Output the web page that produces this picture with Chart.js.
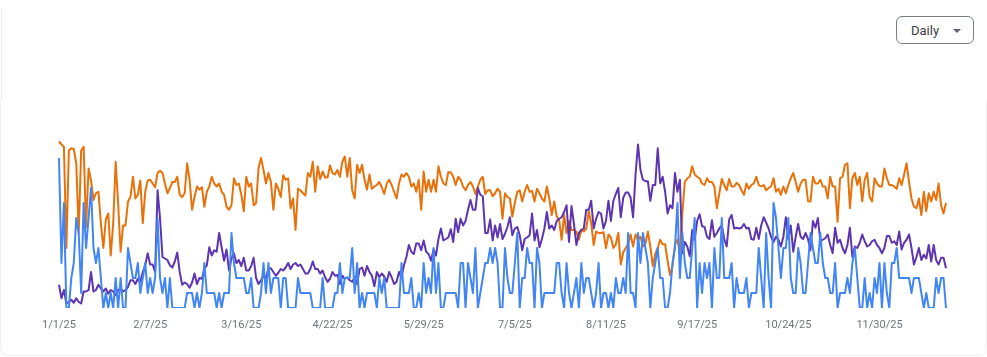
<!DOCTYPE html>
<html>
<head>
<meta charset="utf-8">
<script src="https://cdn.jsdelivr.net/npm/chart.js@4.4.0/dist/chart.umd.min.js"></script>
<style>
  html, body { margin: 0; padding: 0; background: #ffffff; }
  body { width: 987px; height: 357px; position: relative; overflow: hidden; font-family: Roboto, "Noto Sans", Arial, sans-serif; }
  #edgeTop { position: absolute; left: 1px; top: 8px; width: 1px; height: 92px; background: #ecebf4; }
  #card { position: absolute; left: 0; top: 100px; width: 985px; height: 255px; border: 1px solid #f1f1f5; border-top: none; border-radius: 0 0 8px 8px; }
  #chart { position: absolute; left: 0; top: 0; }
  #daily { position: absolute; left: 896px; top: 16px; width: 78px; height: 28px; box-sizing: border-box; border: 1px solid #7a7f85; border-radius: 6px; background: #fff; }
  #daily span { position: absolute; left: 14px; top: 6px; font-size: 13px; line-height: 15px; color: #3c4043; font-family: Roboto, sans-serif; }
  #daily i { position: absolute; left: 56px; top: 12px; width: 0; height: 0; border-left: 4.5px solid transparent; border-right: 4.5px solid transparent; border-top: 4.5px solid #5f6368; }
</style>
</head>
<body>
<div id="edgeTop"></div>
<div id="card"></div>
<canvas id="chart" width="987" height="357"></canvas>
<div id="daily"><span>Daily</span><i></i></div>
<script>
// Category axis: daily dates from 1/1/25 to 12/27/25
const startYear = 2025;
const dayCount = 361;
const categories = [];
for (let i = 0; i < dayCount; i++) {
  const d = new Date(startYear, 0, 1 + i);
  categories.push((d.getMonth() + 1) + '/' + d.getDate() + '/' + String(d.getFullYear()).slice(2));
}

// Tick labels shown on the x axis
const tickLabels = ['1/1/25', '2/7/25', '3/16/25', '4/22/25', '5/29/25', '7/5/25', '8/11/25', '9/17/25', '10/24/25', '11/30/25'];

// Blue series (integer daily counts)
const blueSeries = [
  10,3,7,0,0, 2,3,6,5,1, 7,4,6,8,4, 3,4,2,0,1, 0,1,0,2,0, 2,0,0,4,3, 2,2,3,1,2, 3,1,2,1,2, 6,2,1,
  2,0,2,0,0, 0,0,0,0,1, 1,1,0,1,0, 1,3,1,1,1, 1,0,1,0,1, 1,1,5,3,2, 2,2,2,1,1, 2,0,0,0,1, 3,1,3,1,2,
  2,2,0,2,2, 0,0,0,0,2, 1,1,1,1,1, 0,0,0,0,2, 0,0,0,0,1, 1,3,1,2,2, 2,4,1,3,0, 1,0,1,1,1, 1,0,2,1,2,
  0,0,0,0,0, 0,3,1,1,1, 2,0,0,1,0, 3,1,2,1,4, 1,3,0,0,1, 1,1,1,1,0, 3,3,0,3,2, 1,4,0,1,2, 3,3,4,3,4,
  3,0,0,4,2, 1,1,3,5,0, 2,2,4,3,3, 0,4,3,0,1, 1,1,1,1,3, 3,1,0,3,1, 0,1,2,0,3, 1,2,2,1,0, 1,3,0,1,
  1,0,1,0,2, 1,1,2,1,5, 1,1,0,5,3, 5,4,3,0,2, 3,4,2,2,0, 0,1,3,4,7, 2,5,3,2,2, 4,6,0,3,1,
  3,2,3,0,4, 2,2,6,2,2, 2,3,0,2,1, 1,1,2,0,1, 1,1,4,2,0, 5,2,0,7,6, 4,2,4,4,6, 2,1,1,4,3, 1,1,3,5,4, 3,3,
  5,3,2,2,1, 1,3,0,1,1, 1,2,1,3,4, 2,0,0,2,0, 1,0,2,1,3, 0,3,1,0,3, 3,4,2,2,2, 2,2,1,2,2, 2,1,0,1,0, 0,0,2,1,2, 2,0
];

// Purple series
const purpleSeries = [
  1.55,0.65,1.2,0.3,0.4, 0.55,0.35,0.65,0.4,0.3, 1.1,1.1,1.2,2.4,1.1, 1.2,1.55,1.3,1.1,1.3, 0.95,1.2,1.1,0.85,1.2, 1.3,1.1,1.2,1.4,1.85, 1.85,1.6,1.95,1.75,2.4, 2.85,3.65,2.9,2.9,2.4, 7.85,6.0,3.4,
  3.3,3.2,2.85,2.7,3.1, 3.7,2.4,1.55,1.7,1.6, 1.35,1.7,2.3,1.6,2.0, 1.95,2.6,2.85,4.05,3.5, 3.85,3.75,5.0,4.05,3.15, 3.9,2.5,3.3,3.65,3.0, 3.2,2.8,3.35,2.5,2.5, 2.8,3.35,2.0,1.6,1.85, 2.15,2.0,2.6,2.65,2.4,
  2.15,2.35,2.6,2.5,2.7, 3.0,2.6,2.9,3.0,2.8, 2.9,2.6,2.3,2.3,2.6, 3.1,2.6,2.6,2.3,2.5, 2.05,1.75,1.95,2.4,2.15, 2.2,1.6,2.15,1.95,2.05, 1.85,1.75,2.05,1.6,2.6, 2.7,2.15,2.8,2.4,2.15, 1.45,2.4,2.05,2.3,2.1,
  1.75,2.4,2.05,1.6,1.75, 2.4,2.05,2.85,3.4,4.2, 3.75,3.6,4.3,4.3,3.85, 4.5,3.75,3.6,3.15,3.9, 3.5,4.6,5.3,4.5,4.6, 4.7,5.25,4.4,5.95,5.05, 5.95,5.5,5.8,6.55,7.2, 6.55,6.55,8.0,7.55,7.45, 5.0,5.0,
  5.9,4.5,5.5,4.7,5.6, 4.6,4.95,5.4,6.05,4.85, 5.3,5.4,4.85,3.85,4.6, 4.7,4.85,6.3,4.5,5.2, 4.05,4.6,5.3,6.4,5.3, 5.5,5.2,5.8,5.95,6.05, 6.4,6.85,4.4,6.8,5.6, 4.2,5.0,5.2,5.3,6.55, 6.55,7.15,5.3,5.95,6.4,
  6.3,5.3,5.8,7.15,5.8, 7.15,7.6,8.0,6.05,7.35, 7.7,7.7,7.35,6.05,8.9, 10.9,9.2,8.55,8.45,8.45, 7.15,8.2,8.2,10.65,8.3, 8.75,7.75,6.3,6.85,6.65, 9.0,7.75,8.55,3.65,4.4, 4.1,3.45,5.2,4.55,5.8, 6.25,5.45,5.4,
  4.75,4.6,5.85,4.75,5.0, 5.3,5.5,4.6,4.1,5.9, 6.2,5.3,5.35,5.3,5.35, 5.6,5.3,5.35,4.6,4.55, 5.35,4.6,5.5,6.05,5.7, 5.3,4.75,4.4,4.75,4.55, 4.1,4.75,6.05,4.6,5.5, 3.75,4.75,5.6,4.75,4.6, 5.0,4.6,3.85,5.8,5.35,
  6.0,4.45,4.55,4.65,4.9, 4.2,3.65,5.35,4.35,4.55, 4.0,3.65,4.2,5.35,3.4, 4.1,4.0,4.35,4.9,4.45, 4.1,4.2,4.45,4.55,4.2, 4.0,3.65,4.0,4.8,4.8, 4.35,4.45,4.2,5.1,3.9, 4.35,4.55,4.9,4.0,2.9, 3.4,4.0,3.2,3.55,3.3, 4.2,3.1,4.2,3.2,2.9, 3.35,3.35,2.65
];

// Orange series
const orangeSeries = [
  11.1,10.9,10.75,4.0,10.5, 10.65,10.6,9.65,5.0,10.5, 10.75,5.4,9.3,8.5,7.2, 7.65,7.75,5.65,4.0,5.9, 6.3,3.5,5.65,9.75,7.0, 3.75,5.5,5.5,7.1,7.4, 8.75,7.3,7.55,8.5,5.65, 7.75,8.5,8.55,8.3,8.05, 9.0,9.15,9.0,
  8.3,7.65,8.0,8.4,8.4, 8.75,7.55,7.4,7.65,9.65, 8.55,6.55,7.4,8.1,7.9, 8.05,6.75,7.75,8.1,8.75, 8.3,8.1,8.3,7.75,7.55, 6.75,6.55,6.85,8.65,8.2, 8.3,7.55,6.45,8.75,8.1, 8.3,6.85,7.0,9.35,10.0, 9.2,8.3,9.0,8.4,6.55,
  8.3,7.95,7.4,8.85,8.55, 8.65,6.65,7.3,5.2,7.95, 7.85,7.65,7.5,9.0,8.75, 9.75,7.75,9.45,8.6,9.1, 8.7,8.7,9.5,9.0,8.9, 9.2,8.75,9.75,10.1,8.75, 10.0,7.85,7.3,9.55,9.0, 9.55,8.55,7.9,8.9,7.95, 8.1,8.2,8.4,8.05,7.6,
  8.3,8.55,8.2,7.75,7.3, 8.3,8.9,8.75,9.0,8.75, 8.1,8.3,7.75,8.55,6.55, 9.1,7.75,8.55,7.75,8.55, 7.75,9.45,8.75,8.3,8.2, 9.05,9.05,8.75,8.2,8.75, 8.55,8.1,7.85,8.2,8.4, 8.1,7.6,8.1,8.55,8.75, 7.6,7.85,
  7.85,7.45,7.65,7.95,7.75, 5.95,7.65,7.4,7.3,6.1, 7.0,7.75,7.85,7.1,7.75, 8.2,7.75,7.8,7.1,7.95, 7.65,7.3,7.1,8.1,7.3, 6.2,7.1,6.1,5.85,4.55, 6.2,5.0,5.8,5.2,5.2, 5.1,4.55,5.2,5.1,5.3, 6.45,5.65,4.2,5.1,5.0,
  5.0,5.05,4.0,4.9,4.7, 4.0,4.25,5.0,2.9,3.7, 4.0,4.25,4.9,4.1,4.9, 4.55,4.75,4.1,4.3,5.1, 4.1,2.8,3.6,4.0,4.55, 4.25,4.25,3.15,2.2,2.8, 4.25,4.55,3.7,6.35,8.4, 8.65,8.75,9.45,8.9,8.75, 8.65,8.3,8.2,
  8.65,8.4,8.4,8.1,6.65, 7.65,8.6,8.2,7.85,8.6, 8.1,8.1,8.35,8.2,7.85, 7.55,8.3,7.95,8.2,8.3, 8.75,8.2,8.1,8.2,7.85, 8.0,8.1,8.65,7.75,7.95, 7.55,8.1,7.65,8.2,8.65, 9.0,8.4,7.75,8.3,8.55, 8.55,7.1,7.1,8.75,8.3,
  8.3,8.55,8.1,8.1,7.3, 8.75,8.1,8.1,5.75,8.65, 8.75,9.55,9.65,6.65,8.65, 9.0,8.2,8.75,7.1,8.55, 9.0,7.4,7.1,8.65,8.3, 8.1,8.1,9.3,8.65,8.2, 8.2,8.1,7.95,8.65,8.2, 8.9,9.65,8.4,7.3,6.75, 6.65,7.3,6.2,7.75,6.45, 7.65,7.1,7.75,7.2,8.3, 6.85,6.3,7.0
];

const lineStyle = { borderWidth: 2, pointRadius: 0, pointHoverRadius: 0, tension: 0, fill: false, borderJoinStyle: 'round' };

new Chart(document.getElementById('chart'), {
  type: 'line',
  data: {
    labels: categories,
    datasets: [
      Object.assign({ label: 'Blue', data: blueSeries, borderColor: '#4285f4' }, lineStyle),
      Object.assign({ label: 'Purple', data: purpleSeries, borderColor: '#5e35b1' }, lineStyle),
      Object.assign({ label: 'Orange', data: orangeSeries, borderColor: '#e8710a' }, lineStyle)
    ]
  },
  options: {
    responsive: false,
    devicePixelRatio: 1,
    animation: false,
    events: [],
    layout: { padding: { left: 59, right: 41, top: 128, bottom: 13.8 } },
    plugins: { legend: { display: false }, tooltip: { enabled: false } },
    scales: {
      x: {
        type: 'category',
        offset: false,
        grid: { display: false, drawTicks: false },
        border: { display: false },
        ticks: {
          autoSkip: false,
          maxRotation: 0,
          minRotation: 0,
          padding: 11,
          color: '#70757a',
          font: { family: 'Roboto', size: 11 },
          callback: function (value, index) {
            const lab = categories[index];
            return tickLabels.indexOf(lab) >= 0 ? lab : null;
          }
        }
      },
      y: { display: false, min: 0, max: 12 }
    }
  }
});
</script>
</body>
</html>
